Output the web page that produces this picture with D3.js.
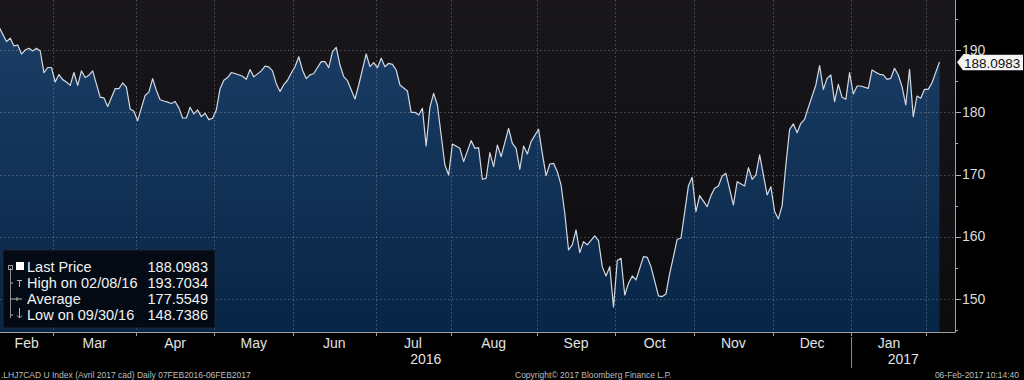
<!DOCTYPE html>
<html lang="en">
<head>
  <meta charset="utf-8">
  <script src="https://cdn.jsdelivr.net/npm/d3@7"></script>
  <style>
    body { margin: 0; background: #000; }
    svg { display: block; font-family: "Liberation Sans", Arial, sans-serif; }
    .grid line { stroke: rgba(160,160,170,0.45); stroke-width: 1; stroke-dasharray: 1.5,2.5; }
    .tick-label { fill: #dcdcdc; font-size: 14px; }
    .month-label { fill: #e2e2e2; font-size: 14px; text-anchor: middle; }
    .footer { fill: #bdbdbd; font-size: 8.5px; }
    .legend text { fill: #f2f2f2; font-size: 14.5px; }
  </style>
</head>
<body>
<svg id="chart" width="1024" height="380"></svg>
<script>
  // trading calendar
  var firstDay = "2016-02-08", lastDay = "2017-02-06";
  var holidays = ["2016-02-15", "2016-03-25", "2016-05-30", "2016-07-04", "2016-09-05",
                  "2016-11-24", "2016-12-26", "2017-01-02", "2017-01-16"];

  var yTicks = [150, 160, 170, 180, 190];
  var yMinorTicks = [145, 155, 165, 175, 185, 195];
  var lastPrice = 188.0983;

  var legendLabels = ["Last Price", "High on 02/08/16", "Average", "Low on 09/30/16"];
  var legendValues = ["188.0983", "193.7034", "177.5549", "148.7386"];

  var footerLeft = ".LHJ7CAD U Index (Avril 2017 cad)  Daily 07FEB2016-06FEB2017";
  var footerMid = "Copyright\u00a9 2017 Bloomberg Finance L.P.";
  var footerRight = "06-Feb-2017 10:14:40";

  // daily closes
  var prices = [
    ["2016-02-08",193.70],["2016-02-10",191.35],["2016-02-11",191.89],["2016-02-12",190.65],
    ["2016-02-16",190.81],["2016-02-17",189.35],["2016-02-18",190.00],["2016-02-19",190.27],
    ["2016-02-22",189.84],["2016-02-23",190.27],["2016-02-24",189.84],["2016-02-25",186.38],
    ["2016-02-26",187.19],["2016-02-29",187.19],["2016-03-01",184.86],["2016-03-02",186.05],
    ["2016-03-03",185.24],["2016-03-04",184.86],["2016-03-07",184.32],["2016-03-08",186.38],
    ["2016-03-09",184.32],["2016-03-10",186.65],["2016-03-11",185.57],["2016-03-14",185.95],
    ["2016-03-15",186.65],["2016-03-17",182.43],["2016-03-18",182.32],["2016-03-21",180.92],
    ["2016-03-23",183.78],["2016-03-24",183.78],["2016-03-28",184.70],["2016-03-29",184.05],
    ["2016-03-30",180.54],["2016-03-31",180.16],["2016-04-01",178.65],["2016-04-05",182.70],
    ["2016-04-06",183.24],["2016-04-07",185.41],["2016-04-08",183.51],["2016-04-11",182.00],
    ["2016-04-12",181.80],["2016-04-13",181.62],["2016-04-14",181.40],["2016-04-15",181.73],
    ["2016-04-18",180.70],["2016-04-19",179.08],["2016-04-20",179.08],["2016-04-21",180.81],
    ["2016-04-22",179.73],["2016-04-25",180.38],["2016-04-26",179.30],["2016-04-27",179.84],
    ["2016-04-28",178.81],["2016-04-29",179.03],["2016-05-02",180.38],["2016-05-03",183.78],
    ["2016-05-04",185.14],["2016-05-05",185.57],["2016-05-06",186.38],["2016-05-09",186.22],
    ["2016-05-11",185.78],["2016-05-12",185.30],["2016-05-13",186.86],["2016-05-16",185.68],
    ["2016-05-18",186.65],["2016-05-19",187.41],["2016-05-20",187.30],["2016-05-23",186.65],
    ["2016-05-24",184.59],["2016-05-25",183.35],["2016-05-26",184.43],["2016-05-27",185.14],
    ["2016-05-31",186.30],["2016-06-01",187.30],["2016-06-02",188.92],["2016-06-03",186.76],
    ["2016-06-06",185.41],["2016-06-07",186.00],["2016-06-08",186.22],["2016-06-10",188.13],
    ["2016-06-13",188.13],["2016-06-14",187.16],["2016-06-15",189.73],["2016-06-16",190.43],
    ["2016-06-17",187.59],["2016-06-20",185.72],["2016-06-21",185.07],["2016-06-23",182.13],
    ["2016-06-24",184.38],["2016-06-28",189.36],["2016-06-29",187.32],["2016-06-30",187.97],
    ["2016-07-01",187.16],["2016-07-05",188.66],["2016-07-06",187.32],["2016-07-07",187.86],
    ["2016-07-08",187.70],["2016-07-11",186.79],["2016-07-12",184.38],["2016-07-14",183.42],
    ["2016-07-15",179.99],["2016-07-18",179.99],["2016-07-19",179.56],["2016-07-20",180.63],
    ["2016-07-21",174.58],["2016-07-22",180.79],["2016-07-25",183.04],["2016-07-26",181.17],
    ["2016-07-28",171.53],["2016-07-29",169.93],["2016-08-01",174.90],["2016-08-03",174.21],
    ["2016-08-04",172.07],["2016-08-08",175.44],["2016-08-09",174.21],["2016-08-10",174.31],
    ["2016-08-11",169.23],["2016-08-12",169.39],["2016-08-15",173.51],["2016-08-16",171.26],
    ["2016-08-17",174.74],["2016-08-18",172.87],["2016-08-22",177.42],["2016-08-23",175.01],
    ["2016-08-24",174.21],["2016-08-25",170.84],["2016-08-26",174.58],["2016-08-29",173.30],
    ["2016-08-30",175.28],["2016-09-01",177.26],["2016-09-02",173.40],["2016-09-06",169.82],
    ["2016-09-07",171.69],["2016-09-08",171.80],["2016-09-09",170.46],["2016-09-12",168.32],
    ["2016-09-13",163.77],["2016-09-14",157.88],["2016-09-15",158.68],["2016-09-16",161.09],
    ["2016-09-19",157.45],["2016-09-20",159.22],["2016-09-21",158.68],["2016-09-23",160.13],
    ["2016-09-26",159.38],["2016-09-27",155.20],["2016-09-28",153.70],["2016-09-29",155.20],
    ["2016-09-30",148.74],["2016-10-03",156.17],["2016-10-04",156.54],["2016-10-05",150.65],
    ["2016-10-06",152.53],["2016-10-07",153.70],["2016-10-10",153.06],["2016-10-12",156.81],
    ["2016-10-13",156.70],["2016-10-14",155.20],["2016-10-18",150.49],["2016-10-19",150.39],
    ["2016-10-20",150.81],["2016-10-21",154.13],["2016-10-24",156.81],["2016-10-25",159.60],
    ["2016-10-26",159.76],["2016-10-28",168.21],["2016-10-31",169.55],["2016-11-01",164.04],
    ["2016-11-02",166.61],["2016-11-04",164.84],["2016-11-07",166.61],["2016-11-08",167.78],
    ["2016-11-09",168.16],["2016-11-10",169.76],["2016-11-11",170.19],["2016-11-15",165.10],
    ["2016-11-16",168.85],["2016-11-18",168.16],["2016-11-21",171.10],["2016-11-22",169.23],
    ["2016-11-23",169.93],["2016-11-25",173.14],["2016-11-29",166.71],["2016-11-30",168.05],
    ["2016-12-01",164.04],["2016-12-02",162.86],["2016-12-05",165.00],["2016-12-06",171.53],
    ["2016-12-07",177.26],["2016-12-08",178.12],["2016-12-09",176.72],["2016-12-12",178.22],
    ["2016-12-13",178.87],["2016-12-14",180.79],["2016-12-16",184.38],["2016-12-19",187.48],
    ["2016-12-20",183.68],["2016-12-21",185.45],["2016-12-22",185.99],["2016-12-23",181.70],
    ["2016-12-27",184.49],["2016-12-28",182.40],["2016-12-29",182.08],["2016-12-30",186.36],
    ["2017-01-03",182.93],["2017-01-04",184.22],["2017-01-05",184.22],["2017-01-09",183.84],
    ["2017-01-10",186.79],["2017-01-11",186.41],["2017-01-12",186.09],["2017-01-13",185.99],
    ["2017-01-17",185.29],["2017-01-18",185.45],["2017-01-19",187.06],["2017-01-20",185.99],
    ["2017-01-23",184.11],["2017-01-24",181.17],["2017-01-25",186.90],["2017-01-26",179.29],
    ["2017-01-27",182.61],["2017-01-30",182.24],["2017-01-31",183.68],["2017-02-01",183.68],
    ["2017-02-02",184.75],["2017-02-06",188.10]
  ];

  var svg = d3.select("#chart"),
      width = +svg.attr("width"),
      plotW = 955, plotH = 332;

  var fmt = d3.timeFormat("%Y-%m-%d"),
      parse = d3.timeParse("%Y-%m-%d");

  // weekdays minus exchange holidays
  var tradingDays = d3.timeDay.range(parse(firstDay), d3.timeDay.offset(parse(lastDay), 1))
      .filter(function(d) { return d.getDay() !== 0 && d.getDay() !== 6; })
      .map(fmt)
      .filter(function(s) { return holidays.indexOf(s) < 0; });

  var x = d3.scalePoint()
      .domain(tradingDays)
      .range([-1, 939.5]);
  var step = x.step();

  var y = d3.scaleLinear()
      .domain([150, 190])
      .range([299, 50]);

  // first trading day of every month -> boundaries
  var monthStarts = tradingDays.filter(function(s, i) {
    return i > 0 && s.slice(5, 7) !== tradingDays[i - 1].slice(5, 7);
  });
  var bounds = monthStarts.map(function(s) { return x(s) - step / 2; });

  var defs = svg.append("defs");
  var bg = defs.append("linearGradient").attr("id", "bg")
      .attr("x1", 0).attr("y1", 0).attr("x2", 0).attr("y2", 1);
  bg.append("stop").attr("offset", "0%").attr("stop-color", "#19171b");
  bg.append("stop").attr("offset", "100%").attr("stop-color", "#0c0b0e");

  var fill = defs.append("linearGradient").attr("id", "fill")
      .attr("gradientUnits", "userSpaceOnUse")
      .attr("x1", 0).attr("y1", 0).attr("x2", 0).attr("y2", plotH);
  fill.append("stop").attr("offset", "0%").attr("stop-color", "#1d4068");
  fill.append("stop").attr("offset", "100%").attr("stop-color", "#072546");

  defs.append("clipPath").attr("id", "clip")
    .append("rect").attr("width", plotW).attr("height", plotH);

  svg.append("rect").attr("width", width).attr("height", 380).attr("fill", "#000");
  svg.append("rect").attr("width", plotW).attr("height", plotH).attr("fill", "url(#bg)");

  var plot = svg.append("g").attr("clip-path", "url(#clip)");

  var area = d3.area()
      .x(function(d) { return x(d[0]); })
      .y0(plotH)
      .y1(function(d) { return y(d[1]); });

  var line = d3.line()
      .x(function(d) { return x(d[0]); })
      .y(function(d) { return y(d[1]); });

  plot.append("path")
      .datum(prices)
      .attr("d", area)
      .attr("fill", "url(#fill)");

  var grid = plot.append("g").attr("class", "grid");
  grid.selectAll(".h")
      .data(yTicks)
    .enter().append("line")
      .attr("x1", 0).attr("x2", plotW)
      .attr("y1", function(d) { return Math.round(y(d)) + 0.5; })
      .attr("y2", function(d) { return Math.round(y(d)) + 0.5; });
  grid.selectAll(".v")
      .data(bounds)
    .enter().append("line")
      .attr("y1", 0).attr("y2", plotH)
      .attr("x1", function(d) { return Math.round(d) + 0.5; })
      .attr("x2", function(d) { return Math.round(d) + 0.5; });

  plot.append("path")
      .datum(prices)
      .attr("d", line)
      .attr("fill", "none")
      .attr("stroke", "#d3d9e2")
      .attr("stroke-width", 1.2)
      .attr("stroke-linejoin", "round");

  // axes frame
  svg.append("line")
      .attr("x1", 0).attr("x2", plotW + 0.5)
      .attr("y1", plotH + 0.5).attr("y2", plotH + 0.5)
      .attr("stroke", "#a0a0a0");
  svg.append("line")
      .attr("x1", plotW + 0.5).attr("x2", plotW + 0.5)
      .attr("y1", 0).attr("y2", plotH + 0.5)
      .attr("stroke", "#a0a0a0");

  // right axis
  var yAxis = svg.append("g");
  yAxis.selectAll(".major")
      .data(yTicks)
    .enter().append("line")
      .attr("x1", plotW).attr("x2", plotW + 6)
      .attr("y1", function(d) { return Math.round(y(d)) + 0.5; })
      .attr("y2", function(d) { return Math.round(y(d)) + 0.5; })
      .attr("stroke", "#b0b0b0");
  yAxis.selectAll(".minor")
      .data(yMinorTicks)
    .enter().append("line")
      .attr("x1", plotW).attr("x2", plotW + 3)
      .attr("y1", function(d) { return Math.round(y(d)) + 0.5; })
      .attr("y2", function(d) { return Math.round(y(d)) + 0.5; })
      .attr("stroke", "#b0b0b0");
  yAxis.selectAll("text")
      .data(yTicks)
    .enter().append("text")
      .attr("class", "tick-label")
      .attr("x", plotW + 7)
      .attr("y", function(d) { return y(d) + 4.5; })
      .text(function(d) { return d; });

  // last price tag
  var ly = y(lastPrice);
  svg.append("path")
      .attr("d", "M" + (plotW + 2) + "," + (ly + 0.5) + "L" + (plotW + 8) + "," + (ly - 7) +
                 "L1023," + (ly - 7) + "L1023," + (ly + 8.5) + "L" + (plotW + 8) + "," + (ly + 8.5) + "Z")
      .attr("fill", "#f4f4f4");
  svg.append("text")
      .attr("x", plotW + 9).attr("y", ly + 6)
      .attr("fill", "#111").attr("font-size", "13.5px")
      .text(lastPrice.toFixed(4));

  // bottom axis
  svg.selectAll(".xtick")
      .data(bounds)
    .enter().append("line")
      .attr("x1", function(d) { return Math.round(d) + 0.5; })
      .attr("x2", function(d) { return Math.round(d) + 0.5; })
      .attr("y1", plotH).attr("y2", plotH + 4)
      .attr("stroke", "#a0a0a0");

  var edges = [0].concat(bounds);
  var monthFmt = d3.timeFormat("%b");
  var months = edges.slice(0, -1).map(function(e, i) {
    var s = i === 0 ? tradingDays[0] : monthStarts[i - 1];
    return { label: monthFmt(parse(s)), cx: (e + edges[i + 1]) / 2 };
  });
  svg.selectAll(".month")
      .data(months)
    .enter().append("text")
      .attr("class", "month-label")
      .attr("x", function(d) { return d.cx; })
      .attr("y", 348)
      .text(function(d) { return d.label; });

  // year labels centred on their span
  var janIdx = monthStarts.findIndex(function(s) { return s.slice(5, 7) === "01"; });
  var yearEdge = bounds[janIdx];
  var years = [
    { label: tradingDays[0].slice(0, 4), cx: yearEdge / 2 },
    { label: monthStarts[janIdx].slice(0, 4), cx: (yearEdge + plotW) / 2 }
  ];
  svg.selectAll(".year")
      .data(years)
    .enter().append("text")
      .attr("class", "month-label")
      .attr("x", function(d) { return d.cx; })
      .attr("y", 364)
      .text(function(d) { return d.label; });
  svg.append("line")
      .attr("x1", Math.round(yearEdge) + 0.5).attr("x2", Math.round(yearEdge) + 0.5)
      .attr("y1", 337).attr("y2", 368)
      .attr("stroke", "#8a8a8a");

  // footer
  svg.append("text").attr("class", "footer").attr("x", 1).attr("y", 378).text(footerLeft);
  svg.append("text").attr("class", "footer").attr("x", 515).attr("y", 378).text(footerMid);
  svg.append("text").attr("class", "footer").attr("x", 1019).attr("y", 378)
      .attr("text-anchor", "end").text(footerRight);

  // legend
  var legend = svg.append("g").attr("class", "legend");
  legend.append("rect")
      .attr("x", 3).attr("y", 250).attr("width", 212).attr("height", 78)
      .attr("fill", "rgba(4,9,16,0.93)")
      .attr("stroke", "#1e2632");
  legend.append("line")
      .attr("x1", 10.5).attr("x2", 10.5).attr("y1", 268).attr("y2", 318)
      .attr("stroke", "#8d8d8d");
  legend.append("rect")
      .attr("x", 8.5).attr("y", 265.5).attr("width", 4).attr("height", 4)
      .attr("fill", "none").attr("stroke", "#9a9a9a");
  legend.append("rect")
      .attr("x", 16).attr("y", 262).attr("width", 8).attr("height", 8)
      .attr("fill", "#fff");

  var rowY = [272, 288, 304, 320];
  // small marker glyphs for high / average / low
  legend.append("path")
      .attr("d", "M10.5,283H13 M17,280.5H22 M19.5,280.5V287" +
                 " M10.5,299H22 M17,297V301" +
                 " M10.5,315H13 M19.5,308V318 M17,315.5L19.5,318L22,315.5")
      .attr("stroke", "#b5b5b5").attr("fill", "none");

  legend.selectAll(".lab")
      .data(legendLabels)
    .enter().append("text")
      .attr("x", 27)
      .attr("y", function(d, i) { return rowY[i]; })
      .text(function(d) { return d; });
  legend.selectAll(".val")
      .data(legendValues)
    .enter().append("text")
      .attr("x", 208)
      .attr("y", function(d, i) { return rowY[i]; })
      .attr("text-anchor", "end")
      .text(function(d) { return d; });
</script>
</body>
</html>
